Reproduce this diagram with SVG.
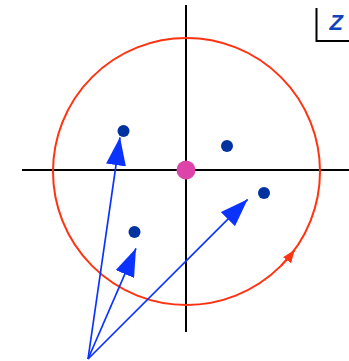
<svg xmlns="http://www.w3.org/2000/svg" width="349" height="361" viewBox="0 0 349 361">
  <style>
    .axis { stroke: #000; stroke-width: 2; fill: none; }
    .orbit { stroke: #ff3311; stroke-width: 2; fill: none; }
    .pt { fill: #0033a0; }
    .vec { stroke: #0a33ff; stroke-width: 1.7; fill: none; }
    .lbl { font-family: "Liberation Sans", Arial, sans-serif; font-style: italic; font-weight: bold; font-size: 22px; fill: #1144bb; }
  </style>
  <defs>
    <marker id="bighead" markerUnits="userSpaceOnUse" markerWidth="28" markerHeight="20" refX="28" refY="10" orient="auto">
      <path d="M0,0 L28,10 L0,20 Z" fill="#0a33ff"/>
    </marker>
    <marker id="redhead" markerUnits="userSpaceOnUse" markerWidth="13" markerHeight="10" refX="13" refY="5" orient="auto">
      <path d="M0,0 L13,5 L0,10 Z" fill="#ff3311"/>
    </marker>
  </defs>
  <g id="axes">
    <line class="axis" x1="186" y1="5" x2="186" y2="332"/>
    <line class="axis" x1="22" y1="170" x2="349" y2="170"/>
  </g>
  <g id="orbit">
    <circle class="orbit" cx="186.5" cy="171.5" r="133.5"/>
    <path class="orbit" d="M280.9,265.9 A133.5,133.5 0 0 0 294.7,249.8" marker-end="url(#redhead)"/>
  </g>
  <g id="zlabel">
    <polyline class="axis" points="316.5,8 316.5,41 349,41"/>
    <text class="lbl" x="329.5" y="29.5">Z</text>
  </g>
  <g id="origin"><circle cx="186" cy="170" r="9.5" fill="#dd44aa"/></g>
  <g id="p1"><circle class="pt" cx="123.5" cy="131" r="6"/></g>
  <g id="p2"><circle class="pt" cx="227" cy="146" r="6"/></g>
  <g id="p3"><circle class="pt" cx="264" cy="193" r="6"/></g>
  <g id="p4"><circle class="pt" cx="134.5" cy="232" r="6"/></g>
  <g id="connectors">
    <line class="vec" x1="88" y1="359" x2="120" y2="137.3" marker-end="url(#bighead)"/>
    <line class="vec" x1="88" y1="359" x2="136" y2="248.3" marker-end="url(#bighead)"/>
    <line class="vec" x1="88" y1="359" x2="247.7" y2="199.3" marker-end="url(#bighead)"/>
  </g>
</svg>
